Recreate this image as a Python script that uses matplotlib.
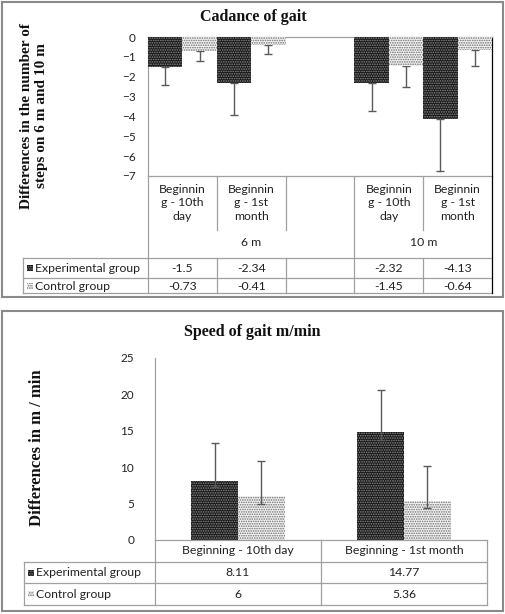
import numpy as np
import matplotlib.pyplot as plt
from matplotlib.patches import Rectangle

W, H = 505, 614

# ---- cadence of gait (top) ----
cad_labels = ["Beginnin\ng - 10th\nday", "Beginnin\ng - 1st\nmonth", "",
              "Beginnin\ng - 10th\nday", "Beginnin\ng - 1st\nmonth"]
cad_groups = ["6 m", "10 m"]
cad_group_span = [(0, 3), (3, 5)]
cad_exp = np.array([-1.5, -2.34, np.nan, -2.32, -4.13])
cad_ctrl = np.array([-0.73, -0.41, np.nan, -1.45, -0.64])
cad_exp_err = np.array([0.91, 1.58, np.nan, 1.40, 2.62])
cad_ctrl_err = np.array([0.47, 0.47, np.nan, 1.05, 0.81])
cad_ticks = [0, -1, -2, -3, -4, -5, -6, -7]

# ---- speed of gait (bottom) ----
spd_labels = ["Beginning - 10th day", "Beginning - 1st month"]
spd_exp = np.array([8.11, 14.77])
spd_ctrl = np.array([6, 5.36])
spd_exp_up = np.array([5.2, 5.83])
spd_exp_lo = np.array([0.8, 1.0])
spd_ctrl_up = np.array([4.85, 4.84])
spd_ctrl_lo = np.array([1.1, 1.0])
spd_ticks = [0, 5, 10, 15, 20, 25]

series = ["Experimental group", "Control group"]

SANS = "Lato"
SERIF = "Liberation Serif"
DARK = dict(facecolor="#161616", edgecolor="#8a8a8a", hatch=".......", linewidth=0)
LIGHT = dict(facecolor="#f4f4f4", edgecolor="#6e6e6e", hatch=".......", linewidth=0)
ERR = "#5a5a5a"
GRID = "#a0a0a0"
plt.rcParams["hatch.linewidth"] = 0.8

fig = plt.figure(figsize=(W / 100, H / 100), dpi=100)
ax1 = fig.add_axes([148 / W, 1 - 176 / H, 344 / W, 139 / H])
ax2 = fig.add_axes([155 / W, 1 - 540 / H, 332 / W, 182 / H])

# top bars
x1 = np.arange(len(cad_labels))
ok = ~np.isnan(cad_exp)
ax1.bar(x1[ok] - 0.25, cad_exp[ok], 0.5, zorder=3, **DARK)
ax1.bar(x1[ok] + 0.25, cad_ctrl[ok], 0.5, zorder=3, **LIGHT)
zero = np.zeros(ok.sum())
ax1.errorbar(x1[ok] - 0.25, cad_exp[ok], yerr=[cad_exp_err[ok], zero], fmt="none",
             ecolor=ERR, elinewidth=1, capsize=2.9, zorder=2)
ax1.errorbar(x1[ok] + 0.25, cad_ctrl[ok], yerr=[cad_ctrl_err[ok], zero], fmt="none",
             ecolor=ERR, elinewidth=1, capsize=2.9, zorder=2)
ax1.set_xlim(-0.5, len(cad_labels) - 0.5)
ax1.set_ylim(-7, 0)
ax1.set_yticks(cad_ticks)
ax1.set_xticks([])
ax1.tick_params(axis="y", length=0, pad=9, labelsize=8.5, labelcolor="#222222")
for s in ["left", "top", "bottom"]:
    ax1.spines[s].set_color(GRID)
ax1.spines["right"].set_color("#000000")
for s in ax1.spines.values():
    s.set_linewidth(0.9)

# bottom bars
x2 = np.arange(len(spd_labels))
bw = 0.283
ax2.bar(x2 - bw / 2, spd_exp, bw, zorder=2, **DARK)
ax2.bar(x2 + bw / 2, spd_ctrl, bw, zorder=2, **LIGHT)
ax2.errorbar(x2 - bw / 2, spd_exp, yerr=[spd_exp_lo, spd_exp_up], fmt="none",
             ecolor=ERR, elinewidth=1, capsize=2.9, zorder=3)
ax2.errorbar(x2 + bw / 2, spd_ctrl, yerr=[spd_ctrl_lo, spd_ctrl_up], fmt="none",
             ecolor=ERR, elinewidth=1, capsize=2.9, zorder=3)
ax2.set_xlim(-0.5, len(spd_labels) - 0.5)
ax2.set_ylim(0, 25)
ax2.set_yticks(spd_ticks)
ax2.set_xticks([])
ax2.tick_params(axis="y", length=0, pad=15, labelsize=8.5, labelcolor="#222222")
ax2.spines["top"].set_visible(False)
ax2.spines["right"].set_visible(False)
for s in ["left", "bottom"]:
    ax2.spines[s].set_color(GRID)
    ax2.spines[s].set_linewidth(0.9)

for ax in (ax1, ax2):
    for lab in ax.get_yticklabels():
        lab.set_family(SANS)

# overlay in pixel coordinates for tables, titles, frames
ov = fig.add_axes([0, 0, 1, 1])
ov.set_xlim(0, W)
ov.set_ylim(H, 0)
ov.axis("off")
ov.patch.set_alpha(0)


def col_edges(ax, n):
    xs = np.arange(n + 1) - 0.5
    return ax.transData.transform(np.c_[xs, np.zeros(n + 1)])[:, 0]


def hl(y, x0, x1_, c=GRID):
    ov.plot([x0, x1_], [y, y], color=c, lw=0.9)


def vl(x, y0, y1_, c=GRID):
    ov.plot([x, x], [y0, y1_], color=c, lw=0.9)


def key(x, y, style):
    ov.add_patch(Rectangle((x, y - 3), 6, 6, **style))


tk = dict(family=SANS, fontsize=8.8, color="#222222", ha="center", va="center")

# top table
cx = col_edges(ax1, len(cad_labels))
r_top, r_cat, r_grp, r_exp, r_end, left = 176, 230, 258, 278, 293, 23
for y in (r_grp, r_exp, r_end):
    hl(y, left, cx[-1])
vl(left, r_grp, r_end)
bounds = {cad_group_span[0][0], cad_group_span[1][0], len(cad_labels)}
for i, x in enumerate(cx):
    if i in bounds:
        vl(x, r_top, r_end, "#000000" if i == len(cad_labels) else GRID)
    else:
        vl(x, r_top, r_cat)
        vl(x, r_grp, r_end)
for i, lab in enumerate(cad_labels):
    xc = (cx[i] + cx[i + 1]) / 2
    ov.text(xc, 203, lab, linespacing=1.25, **tk)
    if not np.isnan(cad_exp[i]):
        ov.text(xc, 268, f"{cad_exp[i]:g}", **tk)
        ov.text(xc, 286, f"{cad_ctrl[i]:g}", **tk)
for g, (a, b) in zip(cad_groups, cad_group_span):
    ov.text((cx[a] + cx[b]) / 2, 243, g, **tk)
key(27, 268, DARK)
key(27, 286, LIGHT)
ov.text(35, 268, series[0], **{**tk, "ha": "left"})
ov.text(35, 286, series[1], **{**tk, "ha": "left"})

# bottom table
cx2 = col_edges(ax2, len(spd_labels))
r_top2, r_cat2, r_exp2, r_end2, left2 = 540, 562, 583, 605, 24
for y in (r_cat2, r_exp2, r_end2):
    hl(y, left2, cx2[-1])
vl(left2, r_cat2, r_end2)
for x in cx2:
    vl(x, r_top2, r_end2)
for i, lab in enumerate(spd_labels):
    xc = (cx2[i] + cx2[i + 1]) / 2
    ov.text(xc, 551, lab, **tk)
    ov.text(xc, 573, f"{spd_exp[i]:g}", **tk)
    ov.text(xc, 594, f"{spd_ctrl[i]:g}", **tk)
key(28, 573, DARK)
key(28, 594, LIGHT)
ov.text(36, 573, series[0], **{**tk, "ha": "left"})
ov.text(36, 594, series[1], **{**tk, "ha": "left"})

# titles and axis labels
ttl = dict(family=SERIF, fontweight="bold", ha="center", va="center", color="#111111")
ov.text(253, 17, "Cadance of gait", fontsize=11.5, **ttl)
ov.text(252, 332, "Speed of gait m/min", fontsize=11.5, **ttl)
ov.text(37, 448, "Differences in m / min", rotation=90, fontsize=12, **ttl)
ov.text(34, 116, "Differences in the number of\nsteps on 6 m and 10 m", rotation=90,
        fontsize=11, linespacing=1.15, **ttl)

# panel frames
ov.add_patch(Rectangle((1.5, 1.5), 501.5, 295, fill=False, edgecolor="#8a8a8a", lw=1.5))
ov.add_patch(Rectangle((2, 311), 501, 300, fill=False, edgecolor="#8a8a8a", lw=1.5))

fig.savefig("out.png", dpi=100)
